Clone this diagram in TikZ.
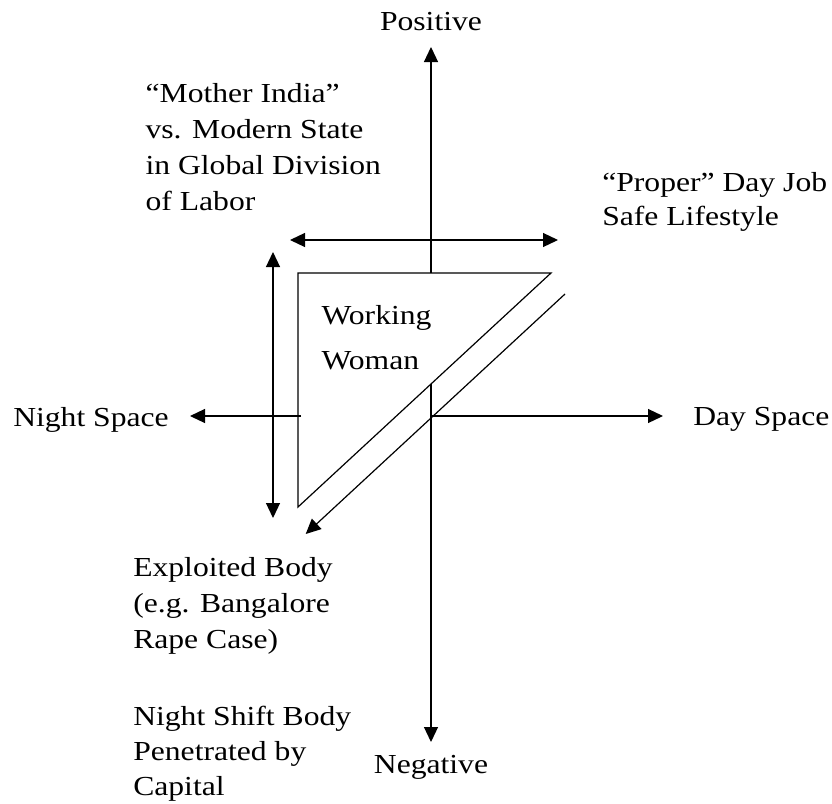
\documentclass[tikz,border=0pt]{standalone}
\usepackage{fontspec}
\setmainfont{Liberation Serif}[FakeStretch=1.15]
\usetikzlibrary{arrows.meta}
\begin{document}
\begin{tikzpicture}[x=1pt,y=1pt,line width=1.2pt,
  tip/.style={-{Triangle[length=15pt,width=14pt]}},
  both/.style={{Triangle[length=15pt,width=14pt]}-{Triangle[length=15pt,width=14pt]}},
  lbl/.style={inner sep=0pt,align=left,font=\fontsize{27.5}{36}\selectfont}]
\useasboundingbox (0,0) rectangle (832,-803);
% axes
\coordinate (O) at (431,-416);
\coordinate (top) at (431,-47);
\coordinate (bot) at (431,-742);
\coordinate (left) at (190,-416);
\coordinate (right) at (663,-416);
\coordinate (stub) at (301,-416);
\draw[tip] (O) -- (top);
\draw[tip] (O) -- (bot);
\draw[tip] (O) -- (right);
% triangle
\coordinate (A) at (298,-273);
\coordinate (B) at (551,-273);
\coordinate (C) at (298,-507);
\filldraw[fill=white] (A) -- (B) -- (C) -- cycle;
\draw[tip] (stub) -- (left);
% other arrows
\coordinate (v1) at (273,-252);
\coordinate (v2) at (273,-518);
\coordinate (h1) at (290,-240);
\coordinate (h2) at (558,-240);
\coordinate (d1) at (565,-294);
\coordinate (d2) at (305.7,-534);
\draw[both] (v1) -- (v2);
\draw[both] (h1) -- (h2);
\draw[tip] (d1) -- (d2);
% labels (base anchor = baseline of the last line)
\node[lbl,anchor=base] (pos) at (431,-30) {Positive};
\node[lbl,anchor=base] (neg) at (431,-773) {Negative};
\node[lbl,anchor=base west] (night) at (12.7,-426) {Night Space};
\node[lbl,anchor=base west] (day) at (692.7,-425) {Day Space};
\node[lbl,anchor=base west] (mother) at (145,-210) {“Mother India”\\vs. Modern State\\in Global Division\\of Labor};
\node[lbl,anchor=base west] (proper) at (601.7,-225) {“Proper” Day Job\\[-2.7pt]Safe Lifestyle};
\node[lbl,anchor=base west] (work) at (321,-369) {Working\\[9pt]Woman};
\node[lbl,anchor=base west] (expl) at (132.7,-648) {Exploited Body\\(e.g. Bangalore\\Rape Case)};
\node[lbl,anchor=base west] (shift) at (132.7,-795) {Night Shift Body\\[-1pt]Penetrated by\\[-1pt]Capital};
\end{tikzpicture}
\end{document}
